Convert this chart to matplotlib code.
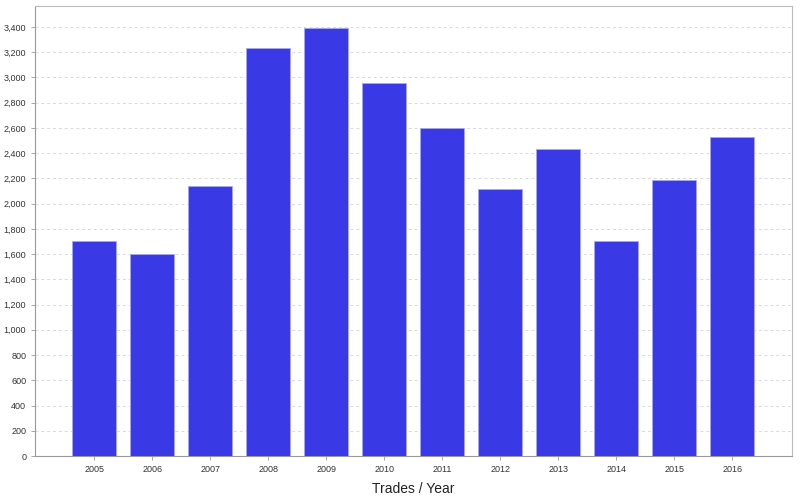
import matplotlib.pyplot as plt
from matplotlib.ticker import FuncFormatter, MultipleLocator

years = ['2005', '2006', '2007', '2008', '2009', '2010',
         '2011', '2012', '2013', '2014', '2015', '2016']
trades = [1700, 1600, 2140, 3230, 3390, 2955, 2600, 2115, 2430, 1705, 2185, 2525]

plt.rcParams['font.family'] = ['Liberation Sans', 'DejaVu Sans']

fig = plt.figure(figsize=(8, 5), dpi=100)
ax = fig.add_axes([0.044, 0.088, 0.946, 0.9])

x = range(len(years))
ax.bar(x, trades, width=0.76, color='#3939e6', edgecolor='#a8a8f0', linewidth=0.6, zorder=3)

ax.set_xlim(-1.02, len(years) - 1 + 1.03)
ax.set_ylim(0, 3566)
ax.yaxis.set_major_locator(MultipleLocator(200))
ax.yaxis.set_major_formatter(FuncFormatter(lambda v, p: '{:,.0f}'.format(v)))
ax.set_xticks(list(x))
ax.set_xticklabels(years)
ax.tick_params(labelsize=6.5, colors='#333333', length=3, width=0.6)
ax.tick_params(axis='both', color='#999999')

ax.grid(axis='y', color='#d9d9d9', linestyle=(0, (3, 3)), linewidth=0.7, zorder=0)
for s in ['left', 'bottom']:
    ax.spines[s].set_color('#999999')
for s in ['top', 'right']:
    ax.spines[s].set_color('#bbbbbb')

ax.set_xlabel('Trades / Year', fontsize=10, color='#222222', labelpad=6)

plt.savefig('out.png')
